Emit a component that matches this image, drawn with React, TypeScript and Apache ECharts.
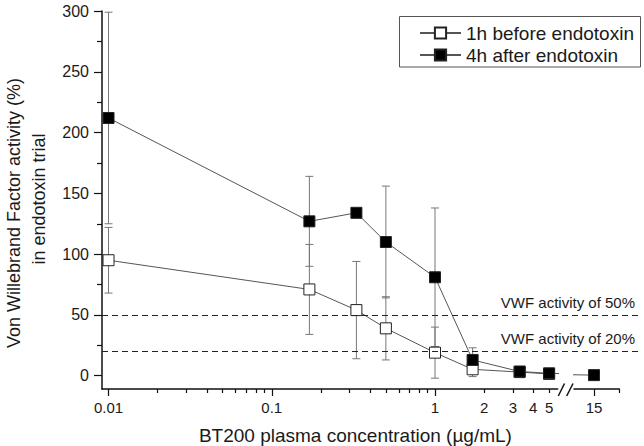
import React, { useEffect, useRef } from 'react';
import * as echarts from 'echarts';

// ---- data ----
const concentrations = [0.01, 0.17, 0.33, 0.5, 1, 1.7, 3.3, 5, 15];
const after4hMean: (number | null)[] = [212, 127, 134, 110, 81, 13, 3.5, 2, 0.5];
const after4hErr = [87, 37, 0, 46, 57, 10, 0, 0, 0];
const before1hMean: (number | null)[] = [95, 71, 54, 39, 19, 5.3, 3, 1.5, null];
const before1hErr = [27, 37, 40, 26, 21, 6, 0, 0, 0];

const yMajorTicks = [0, 50, 100, 150, 200, 250, 300];
const yMinorTicks = [25, 75, 125, 175, 225, 275];
const xLabelsLeft = [0.01, 0.1, 1, 2, 3, 4, 5];
const xMajorLeft = [0.01, 0.1, 1];
const xMinorLeft = [0.02, 0.03, 0.04, 0.05, 0.06, 0.07, 0.08, 0.09, 0.2, 0.3, 0.4, 0.5, 0.6, 0.7, 0.8, 0.9, 2, 3, 4, 5];
const xLabelsRight = [15];
const xMajorRight = [15];
const xMinorRight = [20];
const thresholds = [50, 20];
const thresholdLabels = ['VWF activity of 50%', 'VWF activity of 20%'];
const seriesNames = ['1h before endotoxin', '4h after endotoxin'];
const breakValue = 10;

const FONT = 'Liberation Sans, Arial, sans-serif';
const TXT = '#1a1a1a';

function fmt(v: number) {
  return String(Number(Number(v).toPrecision(3)));
}

function splitPanels(means: (number | null)[]) {
  const pts: [number, number][] = [];
  concentrations.forEach((x, i) => {
    const m = means[i];
    if (m !== null && m !== undefined) pts.push([x, m]);
  });
  const leftIdx = pts.findIndex((p) => p[0] >= breakValue);
  const left = leftIdx === -1 ? pts : pts.slice(0, leftIdx + 1);
  const right = leftIdx === -1 ? [] : pts.slice(Math.max(0, leftIdx - 1));
  return { left, right };
}

function errData(means: (number | null)[], errs: number[], side: 'left' | 'right') {
  const out: [number, number, number][] = [];
  concentrations.forEach((x, i) => {
    const m = means[i];
    const e = errs[i];
    if (m === null || m === undefined || !e) return;
    if ((side === 'left') !== (x < breakValue)) return;
    out.push([x, m - e, m + e]);
  });
  return out;
}

const renderErr = (params: any, api: any) => {
  const x = api.value(0);
  const lo = api.value(1);
  const hi = api.value(2);
  const a = api.coord([x, hi]);
  const b = api.coord([x, lo]);
  const w = 4;
  const style = { stroke: '#777', lineWidth: 1 };
  return {
    type: 'group',
    children: [
      { type: 'line', shape: { x1: a[0], y1: a[1], x2: b[0], y2: b[1] }, style },
      { type: 'line', shape: { x1: a[0] - w, y1: a[1], x2: a[0] + w, y2: a[1] }, style },
      { type: 'line', shape: { x1: b[0] - w, y1: b[1], x2: b[0] + w, y2: b[1] }, style },
    ],
  };
};

export default function App() {
  const ref = useRef<HTMLDivElement>(null);
  useEffect(() => {
    if (!ref.current) return;
    const chart = echarts.init(ref.current, undefined, { renderer: 'svg' });

    const yMin = -10.9;
    const yMax = 300;

    const white = splitPanels(before1hMean);
    const black = splitPanels(after4hMean);

    const lineBase = (name: string, fill: string, z: number) => ({
      type: 'line' as const,
      name,
      symbol: 'rect',
      symbolSize: 11,
      clip: true,
      z,
      lineStyle: { color: '#555', width: 1 },
      itemStyle: { color: fill, borderColor: '#222', borderWidth: 1 },
      emphasis: { disabled: true },
    });

    const axisLineOn = { show: true, onZero: false, lineStyle: { color: '#111', width: 1.5 } };
    const axisLineOff = { show: false, onZero: false };
    const tickStyle = { color: '#111', width: 1.2 };

    const option: any = {
      animation: false,
      textStyle: { fontFamily: FONT },
      grid: [
        { left: 102, top: 11, width: 455.7, bottom: 57 },
        { left: 574, top: 11, width: 45.3, bottom: 57 },
        { left: 102, top: 11, width: 538, bottom: 57 },
      ],
      legend: {
        data: seriesNames,
        orient: 'vertical',
        left: 419,
        top: 23,
        padding: 0,
        itemGap: 2,
        itemWidth: 41,
        itemHeight: 14,
        selectedMode: false,
        textStyle: { fontSize: 19, lineHeight: 20, color: TXT, fontFamily: FONT },
      },
      xAxis: [
        {
          type: 'log', gridIndex: 0, logBase: 10, min: 0.00912, max: 5.645, position: 'bottom',
          axisLine: axisLineOn,
          axisTick: { show: true, inside: false, length: 7, customValues: xMajorLeft, lineStyle: tickStyle },
          axisLabel: { show: true, customValues: xLabelsLeft, formatter: (v: number) => fmt(v), fontSize: 15, color: TXT, margin: 11, fontFamily: FONT },
          splitLine: { show: false }, minorTick: { show: false },
        },
        {
          type: 'log', gridIndex: 0, logBase: 10, min: 0.00912, max: 5.645, position: 'bottom',
          axisLine: axisLineOff,
          axisTick: { show: true, inside: false, length: 4, customValues: xMinorLeft, lineStyle: tickStyle },
          axisLabel: { show: false },
          splitLine: { show: false },
        },
        {
          type: 'log', gridIndex: 1, logBase: 10, min: 11.95, max: 20, position: 'bottom',
          axisLine: axisLineOn,
          axisTick: { show: true, inside: false, length: 7, customValues: xMajorRight, lineStyle: tickStyle },
          axisLabel: { show: true, customValues: xLabelsRight, formatter: (v: number) => fmt(v), fontSize: 15, color: TXT, margin: 11, fontFamily: FONT },
          splitLine: { show: false },
        },
        {
          type: 'log', gridIndex: 1, logBase: 10, min: 11.95, max: 20, position: 'bottom',
          axisLine: axisLineOff,
          axisTick: { show: true, inside: false, length: 4, customValues: xMinorRight, lineStyle: tickStyle },
          axisLabel: { show: false },
          splitLine: { show: false },
        },
        { type: 'value', gridIndex: 2, min: 0, max: 1, show: false },
      ],
      yAxis: [
        {
          type: 'value', gridIndex: 0, min: yMin, max: yMax, position: 'left',
          axisLine: axisLineOn,
          axisTick: { show: true, inside: false, length: 8, customValues: yMajorTicks, lineStyle: tickStyle },
          axisLabel: { show: true, customValues: yMajorTicks, fontSize: 16, color: TXT, margin: 13, fontFamily: FONT },
          splitLine: { show: false },
        },
        {
          type: 'value', gridIndex: 0, min: yMin, max: yMax, position: 'left',
          axisLine: axisLineOff,
          axisTick: { show: true, inside: false, length: 5, customValues: yMinorTicks, lineStyle: tickStyle },
          axisLabel: { show: false },
          splitLine: { show: false },
        },
        { type: 'value', gridIndex: 1, min: yMin, max: yMax, show: false },
        { type: 'value', gridIndex: 2, min: yMin, max: yMax, show: false },
      ],
      series: [
        {
          type: 'custom', name: 'err-white-left', xAxisIndex: 0, yAxisIndex: 0, z: 1,
          renderItem: renderErr, data: errData(before1hMean, before1hErr, 'left'), encode: { x: 0, y: [1, 2] },
        },
        {
          type: 'custom', name: 'err-black-left', xAxisIndex: 0, yAxisIndex: 0, z: 1,
          renderItem: renderErr, data: errData(after4hMean, after4hErr, 'left'), encode: { x: 0, y: [1, 2] },
        },
        { ...lineBase(seriesNames[0], '#ffffff', 2), xAxisIndex: 0, yAxisIndex: 0, data: white.left },
        { ...lineBase(seriesNames[1], '#000000', 3), xAxisIndex: 0, yAxisIndex: 0, data: black.left },
        { ...lineBase(seriesNames[0], '#ffffff', 2), xAxisIndex: 2, yAxisIndex: 2, data: white.right.length > 1 ? white.right : [] },
        { ...lineBase(seriesNames[1], '#000000', 3), xAxisIndex: 2, yAxisIndex: 2, data: black.right },
        {
          type: 'line', name: 'thresholds', xAxisIndex: 4, yAxisIndex: 3, data: [], z: 1,
          markLine: {
            silent: true,
            symbol: ['none', 'none'],
            lineStyle: { color: '#222', width: 1.2, type: [6, 4] },
            label: {
              show: true, position: 'insideEndTop', fontSize: 15, color: TXT, fontFamily: FONT,
              formatter: (p: any) => thresholdLabels[thresholds.indexOf(p.value)] ?? '',
            },
            data: thresholds.map((t) => ({ yAxis: t })),
          },
        },
      ],
      graphic: [
        { type: 'rect', shape: { x: 399.5, y: 16.5, width: 241, height: 50.5 }, style: { fill: 'none', stroke: '#555', lineWidth: 1 }, silent: true },
        { type: 'line', shape: { x1: 558.3, y1: 396, x2: 564.5, y2: 383.5 }, style: { stroke: '#111', lineWidth: 1.5 } },
        { type: 'line', shape: { x1: 566.7, y1: 396, x2: 573, y2: 383.5 }, style: { stroke: '#111', lineWidth: 1.5 } },
        {
          type: 'text', x: 13.5, y: 213, rotation: Math.PI / 2,
          style: { text: 'Von Willebrand Factor activity (%)', fontSize: 18, fill: TXT, fontFamily: FONT, align: 'center', verticalAlign: 'middle' },
        },
        {
          type: 'text', x: 38.8, y: 199, rotation: Math.PI / 2,
          style: { text: 'in endotoxin trial', fontSize: 18, fill: TXT, fontFamily: FONT, align: 'center', verticalAlign: 'middle' },
        },
        {
          type: 'text', x: 355.4, y: 435,
          style: { text: 'BT200 plasma concentration (µg/mL)', fontSize: 19, fill: TXT, fontFamily: FONT, align: 'center', verticalAlign: 'middle' },
        },
      ],
    };

    chart.setOption(option);
    return () => chart.dispose();
  }, []);

  return <div ref={ref} style={{ position: 'fixed', left: 0, top: 0, width: 644, height: 446, background: '#fff' }} />;
}
